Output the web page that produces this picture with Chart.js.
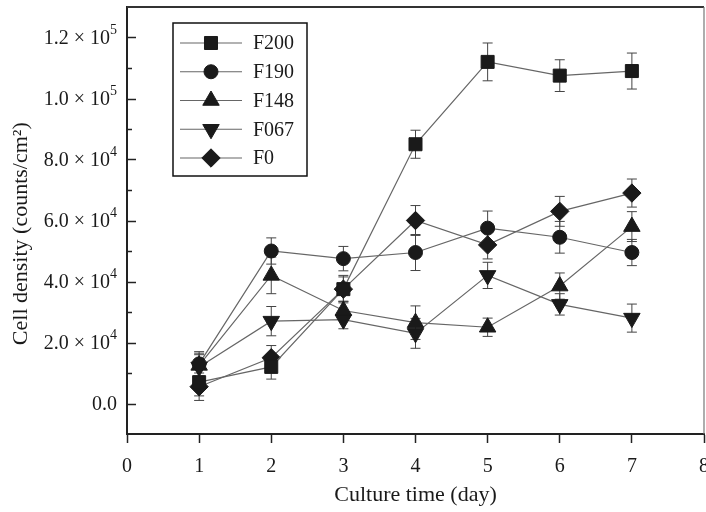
<!DOCTYPE html>
<html>
<head>
<meta charset="utf-8">
<script src="https://cdn.jsdelivr.net/npm/chart.js"></script>
<style>
    body { margin: 0; background: #fff; }
    #wrap { width: 706px; height: 512px; }
</style>
</head>
<body>
<div id="wrap"><canvas id="chart" width="706" height="512"></canvas></div>
<script>
var days = [1, 2, 3, 4, 5, 6, 7];

var seriesNames = ['F200', 'F190', 'F148', 'F067', 'F0'];

var f200 = [7000, 12000, 37500, 85000, 112000, 107500, 109000];
var f190 = [13000, 50000, 47500, 49500, 57500, 54500, 49500];
var f148 = [12500, 42000, 30500, 26500, 25000, 38500, 58000];
var f067 = [12000, 27000, 27500, 23000, 42000, 32500, 28000];
var f0 = [5500, 15000, 37500, 60000, 52000, 63000, 69000];

var f200Err = [4500, 4000, 4000, 4600, 6200, 5200, 5900];
var f190Err = [4000, 4300, 4000, 5900, 5600, 5200, 4300];
var f148Err = [4000, 6000, 3000, 5500, 3000, 4300, 4900];
var f067Err = [4000, 4800, 3000, 4900, 4300, 3500, 4600];
var f0Err = [4500, 4000, 4500, 4900, 4600, 4900, 4600];

var yTickValues = [0, 20000, 40000, 60000, 80000, 100000, 120000];
var yTickMantissa = ['0.0', '2.0', '4.0', '6.0', '8.0', '1.0', '1.2'];
var yTickExponent = ['', '4', '4', '4', '4', '5', '5'];

var SERIF = '"Liberation Serif", "DejaVu Serif", serif';
var INK = '#1a1a1a';
var LINE = '#666666';

function makeSeries(label, values, errors, style, radius, rotation) {
    return {
        label: label,
        data: days.map(function (d, i) { return { x: d, y: values[i] }; }),
        errors: errors,
        borderColor: LINE,
        borderWidth: 1.2,
        pointStyle: style,
        pointRadius: radius,
        pointHoverRadius: radius,
        pointRotation: rotation,
        pointBackgroundColor: INK,
        pointBorderColor: INK,
        pointBorderWidth: 1,
        tension: 0,
        fill: false
    };
}

// error bars, drawn under the markers
var errorBars = {
    id: 'errorBars',
    beforeDatasetsDraw: function (chart) {
        var ctx = chart.ctx;
        var y = chart.scales.y;
        ctx.save();
        ctx.strokeStyle = '#444';
        ctx.lineWidth = 1;
        chart.data.datasets.forEach(function (ds, di) {
            var meta = chart.getDatasetMeta(di);
            meta.data.forEach(function (pt, i) {
                var v = ds.data[i].y;
                var e = ds.errors[i];
                var top = y.getPixelForValue(v + e);
                var bot = y.getPixelForValue(v - e);
                ctx.beginPath();
                ctx.moveTo(pt.x, top);
                ctx.lineTo(pt.x, bot);
                ctx.moveTo(pt.x - 5, top);
                ctx.lineTo(pt.x + 5, top);
                ctx.moveTo(pt.x - 5, bot);
                ctx.lineTo(pt.x + 5, bot);
                ctx.stroke();
            });
        });
        ctx.restore();
    }
};

// frame, inward y ticks, y labels with exponents, legend box
var decorations = {
    id: 'decorations',
    afterDraw: function (chart) {
        var ctx = chart.ctx;
        var area = chart.chartArea;
        var y = chart.scales.y;
        ctx.save();

        ctx.strokeStyle = '#333';
        ctx.lineWidth = 2;
        ctx.beginPath();
        ctx.moveTo(area.left, area.top);
        ctx.lineTo(area.right, area.top);
        ctx.stroke();
        ctx.strokeStyle = '#777';
        ctx.lineWidth = 1.2;
        ctx.beginPath();
        ctx.moveTo(area.right, area.top);
        ctx.lineTo(area.right, area.bottom);
        ctx.stroke();

        ctx.strokeStyle = '#222';
        ctx.lineWidth = 1.5;
        y.ticks.forEach(function (t) {
            if (t.value <= y.min || t.value >= y.max) return;
            var py = Math.round(y.getPixelForValue(t.value)) + 0.5;
            var len = Math.round(t.value / 10000) % 2 === 0 ? 9 : 5;
            ctx.beginPath();
            ctx.moveTo(area.left, py);
            ctx.lineTo(area.left + len, py);
            ctx.stroke();
        });

        ctx.fillStyle = INK;
        ctx.textBaseline = 'middle';
        yTickValues.forEach(function (v, i) {
            var py = y.getPixelForValue(v);
            var xr = area.left - 10;
            var expo = yTickExponent[i];
            if (expo) {
                ctx.font = '14px ' + SERIF;
                var ew = ctx.measureText(expo).width;
                ctx.textAlign = 'left';
                ctx.fillText(expo, xr - ew, py - 7);
                xr -= ew;
                ctx.font = '20px ' + SERIF;
                ctx.textAlign = 'right';
                ctx.fillText(yTickMantissa[i] + ' \u00d7 10', xr, py + 1);
            } else {
                ctx.font = '20px ' + SERIF;
                ctx.textAlign = 'right';
                ctx.fillText(yTickMantissa[i], xr, py + 1);
            }
        });

        // legend
        var bx = 173, by = 23, bw = 134, bh = 153;
        ctx.fillStyle = '#fff';
        ctx.fillRect(bx, by, bw, bh);
        ctx.strokeStyle = '#111';
        ctx.lineWidth = 1.5;
        ctx.strokeRect(bx, by, bw, bh);
        chart.data.datasets.forEach(function (ds, i) {
            var ly = by + 20 + i * 28.75;
            ctx.strokeStyle = LINE;
            ctx.lineWidth = 1.2;
            ctx.beginPath();
            ctx.moveTo(bx + 7, ly);
            ctx.lineTo(bx + 69, ly);
            ctx.stroke();
            ctx.fillStyle = INK;
            ctx.strokeStyle = INK;
            ctx.lineWidth = 1;
            Chart.helpers.drawPoint(ctx, {
                pointStyle: ds.pointStyle,
                radius: ds.pointRadius,
                rotation: ds.pointRotation,
                borderWidth: 1
            }, bx + 38, ly);
            ctx.font = '20px ' + SERIF;
            ctx.textAlign = 'left';
            ctx.textBaseline = 'middle';
            ctx.fillText(ds.label, bx + 80, ly + 1);
        });

        ctx.restore();
    }
};

new Chart(document.getElementById('chart'), {
    type: 'line',
    data: {
        datasets: [
            makeSeries(seriesNames[0], f200, f200Err, 'rect', 9.2, 0),
            makeSeries(seriesNames[1], f190, f190Err, 'circle', 7, 0),
            makeSeries(seriesNames[2], f148, f148Err, 'triangle', 9.5, 0),
            makeSeries(seriesNames[3], f067, f067Err, 'triangle', 9.5, 180),
            makeSeries(seriesNames[4], f0, f0Err, 'rectRot', 9.2, 0)
        ]
    },
    options: {
        responsive: false,
        animation: false,
        layout: {
            autoPadding: false,
            padding: { top: 7, right: 2, left: 0, bottom: 0 }
        },
        plugins: {
            legend: { display: false },
            tooltip: { enabled: false }
        },
        scales: {
            x: {
                type: 'linear',
                min: 0,
                max: 8,
                ticks: {
                    stepSize: 1,
                    color: INK,
                    padding: 12,
                    maxRotation: 0,
                    font: { family: SERIF, size: 20 }
                },
                grid: {
                    drawOnChartArea: false,
                    tickLength: 9,
                    tickWidth: 1.5,
                    tickColor: '#222'
                },
                border: { color: '#222', width: 2 },
                title: {
                    display: true,
                    text: 'Culture time (day)',
                    color: INK,
                    font: { family: SERIF, size: 22 },
                    padding: { top: 0, bottom: 4 }
                },
                afterFit: function (scale) {
                    scale.height = 78;
                    scale.paddingLeft = 0;
                    scale.paddingRight = 0;
                }
            },
            y: {
                type: 'linear',
                min: -10000,
                max: 130000,
                ticks: {
                    stepSize: 10000,
                    display: false
                },
                grid: {
                    drawOnChartArea: false,
                    drawTicks: false
                },
                border: { color: '#222', width: 2 },
                title: {
                    display: true,
                    text: 'Cell density (counts/cm\u00b2)\u2003\u2009',
                    color: INK,
                    font: { family: SERIF, size: 22 },
                    padding: { top: 8, bottom: 0 }
                },
                afterFit: function (scale) {
                    scale.width = 127;
                }
            }
        }
    },
    plugins: [errorBars, decorations]
});
</script>
</body>
</html>
